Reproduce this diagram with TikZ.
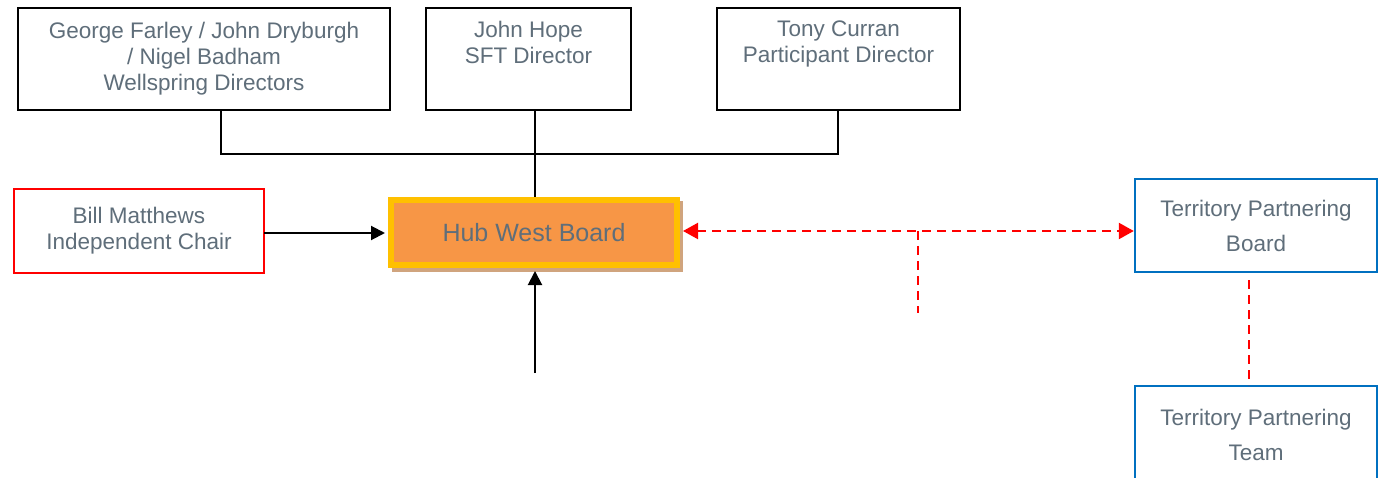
\documentclass[tikz,border=0pt]{standalone}
\usepackage{fontspec}
\setmainfont{Liberation Sans}
\usetikzlibrary{arrows.meta}
\definecolor{txt}{HTML}{5F6E7A}
\definecolor{hubfill}{HTML}{F79646}
\definecolor{hubline}{HTML}{FFC000}
\definecolor{shadowc}{HTML}{D0A47E}
\definecolor{tpblue}{HTML}{0070C0}
\begin{document}
\begin{tikzpicture}[x=1pt,y=-1pt,
  box/.style={draw=black,line width=1.4pt,fill=white,inner sep=0pt,text=txt,align=center,font=\fontsize{22.5}{26}\selectfont},
  tpbox/.style={draw=tpblue,line width=2.4pt,fill=white,inner sep=0pt,text=txt,align=center,font=\fontsize{22.5}{35}\selectfont},
  conn/.style={line width=2pt,black},
  reddash/.style={red,line width=2.2pt,dash pattern=on 9pt off 6pt},
  tip/.style={-{Triangle[length=14pt,width=14pt]}},
  rtip/.style={{Triangle[length=15pt,width=16pt]}-{Triangle[length=15pt,width=16pt]}}]
\useasboundingbox (0,0) rectangle (1380,478);
\node[box,minimum width=372pt,minimum height=102pt] (gf) at (204,59) {George Farley / John Dryburgh\\/ Nigel Badham\\Wellspring Directors};
\node[box,minimum width=205pt,minimum height=102pt] (jh) at (528.5,59) {John Hope\\SFT Director\\\strut};
\node[box,minimum width=243pt,minimum height=102pt] (tc) at (838.5,59) {Tony Curran\\Participant Director\\\strut};
\node[box,draw=red,line width=2.6pt,minimum width=250pt,minimum height=84pt] (bm) at (139,231) {Bill Matthews\\Independent Chair};
\fill[shadowc] (392,201) rectangle (683,272);
\node[draw=hubline,fill=hubfill,line width=6pt,minimum width=286pt,minimum height=65pt,inner sep=0pt,text=txt,font=\fontsize{25}{28}\selectfont] (hub) at (534,232.5) {Hub West Board};
\node[tpbox,minimum width=242pt,minimum height=93pt] (tpb) at (1256,225.5) {Territory Partnering\\Board};
\node[tpbox,minimum width=242pt,minimum height=98pt,anchor=north] (tpt) at (1256,385) {Territory Partnering\\Team};
\coordinate (j1) at (221,154);
\coordinate (j2) at (838,154);
\coordinate (bot) at (535,373);
\coordinate (ba) at (264,233);
\coordinate (br) at (918,231);
\coordinate (brend) at (918,313);
\coordinate (tpbb) at (1249,280);
\draw[conn] (gf.south -| j1) -- (j1) -- (j2) -- (tc.south -| j2);
\draw[conn] (jh.south -| bot) -- (hub.north -| bot);
\draw[conn,tip] (ba) -- ([xshift=-3pt]ba -| hub.west);
\draw[conn,tip] (bot) -- ([yshift=-3pt]hub.south -| bot);
\draw[reddash,rtip] ([xshift=3pt]hub.east |- br) -- (tpb.west |- br);
\draw[reddash] (br) -- (brend);
\draw[reddash] (tpbb) -- (tpt.north -| tpbb);
\end{tikzpicture}
\end{document}
